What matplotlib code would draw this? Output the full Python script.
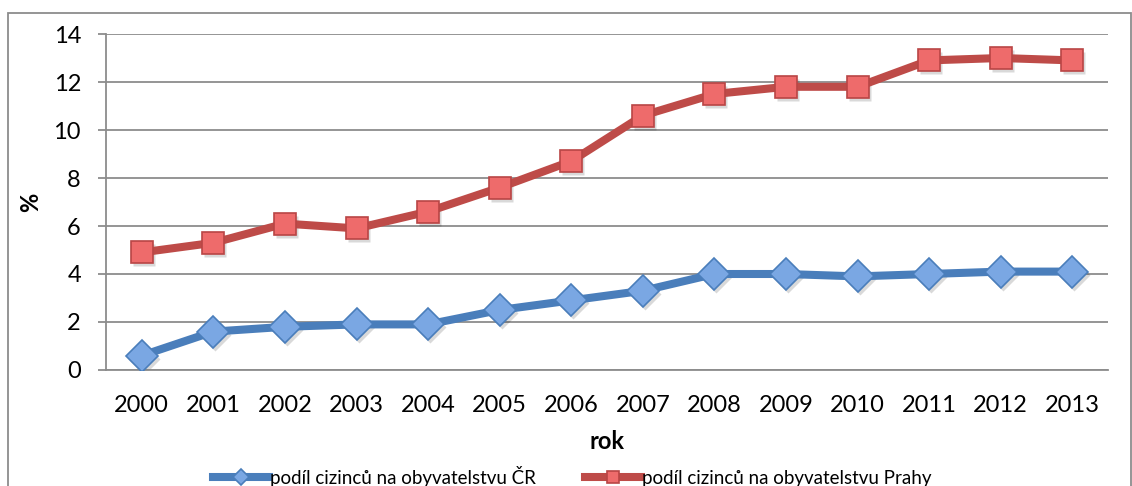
import matplotlib
matplotlib.use("Agg")
import matplotlib.pyplot as plt
from matplotlib.patches import Rectangle
import matplotlib.transforms as mtransforms

years = ["2000", "2001", "2002", "2003", "2004", "2005", "2006",
         "2007", "2008", "2009", "2010", "2011", "2012", "2013"]
cr_share = [0.6, 1.6, 1.8, 1.9, 1.9, 2.5, 2.9, 3.3, 4.0, 4.0, 3.9, 4.0, 4.1, 4.1]
praha_share = [4.9, 5.3, 6.1, 5.9, 6.6, 7.6, 8.7, 10.6, 11.5, 11.8, 11.8, 12.9, 13.0, 12.9]
yticks = [0, 2, 4, 6, 8, 10, 12, 14]
label_cr = "podíl cizinců na obyvatelstvu ČR"
label_praha = "podíl cizinců na obyvatelstvu Prahy"

plt.rcParams['font.family'] = ['Lato', 'DejaVu Sans']

W, H = 1132, 486
fig = plt.figure(figsize=(W / 100, H / 100), dpi=100)
ax = fig.add_axes([106 / W, 1 - 370 / H, (1108 - 106) / W, (370 - 34) / H])

x = list(range(len(years)))
shadow_tr = ax.transData + mtransforms.ScaledTranslation(2 / 100, -3 / 100, fig.dpi_scale_trans)

# marker shadows
ax.plot(x, cr_share, ls="none", marker="D", markersize=16, markerfacecolor="#000000",
        markeredgecolor="none", alpha=0.15, transform=shadow_tr, zorder=2)
ax.plot(x, praha_share, ls="none", marker="s", markersize=16, markerfacecolor="#000000",
        markeredgecolor="none", alpha=0.15, transform=shadow_tr, zorder=2)

ax.plot(x, cr_share, color="#4A7EBB", lw=5.8, marker="D", markersize=16,
        markerfacecolor="#7AA7E3", markeredgecolor="#4A7EBB", markeredgewidth=1.2,
        label=label_cr, zorder=3)
ax.plot(x, praha_share, color="#BE4B48", lw=5.8, marker="s", markersize=16,
        markerfacecolor="#EE6B6B", markeredgecolor="#B94545", markeredgewidth=1.2,
        label=label_praha, zorder=3)

ax.set_xlim(-0.5, len(years) - 0.5)
ax.set_ylim(0, 14)
ax.set_yticks(yticks)
ax.set_yticklabels([str(v) for v in yticks])
ax.set_xticks(x)
ax.set_xticklabels(years)

ax.grid(axis="y", color="#8C8C8C", lw=1.3)
ax.set_axisbelow(True)
for s in ["top", "right"]:
    ax.spines[s].set_visible(False)
ax.spines["left"].set_color("#8C8C8C")
ax.spines["left"].set_linewidth(1.3)
ax.spines["bottom"].set_color("#8C8C8C")
ax.spines["bottom"].set_linewidth(1.3)

ax.tick_params(axis="y", length=6, width=1.3, color="#8C8C8C", pad=12, labelsize=17)
ax.tick_params(axis="x", length=0, pad=18, labelsize=17)

fig.text(31 / W, 1 - 202 / H, "%", rotation=90, ha="center", va="center",
         fontsize=17, fontweight="bold")
fig.text(607 / W, 1 - 441 / H, "rok", ha="center", va="center",
         fontsize=17, fontweight="bold")

leg = fig.legend(loc="center", bbox_to_anchor=(572 / W, 1 - 476 / H), ncol=2,
                 frameon=False, fontsize=13.5, handlelength=3.0, handletextpad=0.05,
                 columnspacing=2.6, markerscale=0.5)

fig.patches.append(Rectangle((8 / W, -0.1), (1131 - 8) / W, 1.1 - 13 / H,
                             transform=fig.transFigure, fill=False,
                             edgecolor="#8C8C8C", lw=1.3))

fig.savefig("out.png", dpi=100)
